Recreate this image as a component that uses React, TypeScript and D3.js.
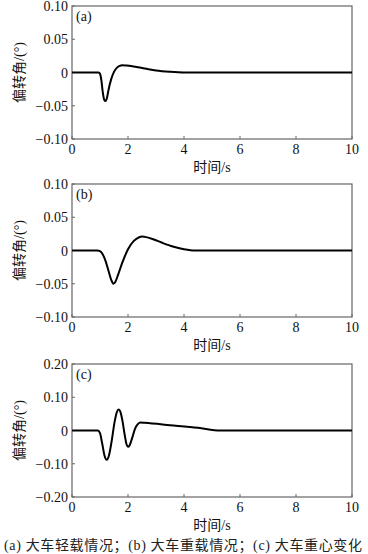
import * as d3 from 'd3'

// time (s) and deflection angle (°)
const timeA = [0, 0.95, 1.0, 1.05, 1.1, 1.15, 1.2, 1.25, 1.3, 1.4, 1.5, 1.6, 1.7, 1.8, 1.95, 2.2, 2.6, 3.0, 3.5, 4.0, 10]
const angleA = [0, 0, -0.002, -0.012, -0.03, -0.041, -0.043, -0.038, -0.027, -0.01, 0.001, 0.007, 0.010, 0.011, 0.0105, 0.009, 0.006, 0.003, 0.001, 0, 0]

const timeB = [0, 0.9, 1.0, 1.1, 1.2, 1.3, 1.4, 1.48, 1.55, 1.65, 1.8, 2.0, 2.2, 2.4, 2.5, 2.6, 2.9, 3.2, 3.6, 4.0, 4.4, 10]
const angleB = [0, 0, -0.001, -0.006, -0.016, -0.030, -0.044, -0.050, -0.047, -0.036, -0.018, 0.002, 0.014, 0.020, 0.021, 0.0205, 0.017, 0.012, 0.006, 0.002, 0, 0]

const timeC = [0, 0.92, 1.0, 1.08, 1.16, 1.24, 1.32, 1.42, 1.52, 1.6, 1.66, 1.72, 1.8, 1.88, 1.95, 2.0, 2.06, 2.15, 2.25, 2.35, 2.45, 2.6, 3.5, 4.5, 5.3, 10]
const angleC = [0, 0, -0.008, -0.040, -0.075, -0.088, -0.075, -0.030, 0.025, 0.055, 0.063, 0.058, 0.030, -0.012, -0.042, -0.049, -0.044, -0.022, 0.005, 0.019, 0.024, 0.023, 0.016, 0.008, 0, 0]

const xTicks = [0, 2, 4, 6, 8, 10]
const yTicksAB = [-0.1, -0.05, 0, 0.05, 0.1]
const yTicksC = [-0.2, -0.1, 0, 0.1, 0.2]

const panels = [
  { tag: '(a)', time: timeA, angle: angleA, ticks: yTicksAB, max: 0.1, top: 6 },
  { tag: '(b)', time: timeB, angle: angleB, ticks: yTicksAB, max: 0.1, top: 184 },
  { tag: '(c)', time: timeC, angle: angleC, ticks: yTicksC, max: 0.2, top: 364 },
]

const caption = '(a)  大车轻载情况；(b)  大车重载情况；(c)  大车重心变化'

const left = 72
const right = 352
const plotH = 133
const font = '"Liberation Serif", "Noto Sans CJK SC", serif'
const axisColor = '#666'

function fmt(v: number) {
  if (v === 0) return '0'
  const s = Math.abs(v).toFixed(2)
  return (v < 0 ? '\u22120' : '0') + s.slice(1)
}

function Panel({ p }: { p: (typeof panels)[number] }) {
  const x = d3.scaleLinear().domain([0, 10]).range([left, right])
  const y = d3.scaleLinear().domain([-p.max, p.max]).range([p.top + plotH, p.top])
  const pts = p.time.map((t, i) => [t, p.angle[i]] as [number, number])
  const line = d3.line<[number, number]>()
    .x(d => x(d[0]))
    .y(d => y(d[1]))
    .curve(d3.curveMonotoneX)
  const bottom = p.top + plotH
  const midY = p.top + plotH / 2
  return (
    <g>
      <rect x={left} y={p.top} width={right - left} height={plotH} fill="none" stroke={axisColor} strokeWidth={1.2} />
      {p.ticks.map(t => (
        <g key={t}>
          <line x1={left} x2={left + 3} y1={y(t)} y2={y(t)} stroke={axisColor} />
          <text x={left - 4} y={y(t) + 5} textAnchor="end" fontSize={14} fontFamily={font} fill="#111">{fmt(t)}</text>
        </g>
      ))}
      {xTicks.map(t => (
        <g key={t}>
          <line x1={x(t)} x2={x(t)} y1={bottom} y2={bottom - 3} stroke={axisColor} />
          <text x={x(t)} y={bottom + 15} textAnchor="middle" fontSize={14} fontFamily={font} fill="#111">{t}</text>
        </g>
      ))}
      <path d={line(pts) ?? ''} fill="none" stroke="#000" strokeWidth={2} />
      <text x={left + 4} y={p.top + 15} fontSize={14} fontFamily={font} fill="#111">{p.tag}</text>
      <text x={(left + right) / 2} y={bottom + 33} textAnchor="middle" fontSize={14} fontFamily={font} fill="#111">时间/s</text>
      <text transform={`translate(24,${midY}) rotate(-90)`} textAnchor="middle" fontSize={14} fontFamily={font} fill="#111">偏转角/(°)</text>
    </g>
  )
}

export default function App() {
  return (
    <svg width={368} height={554} style={{ position: 'absolute', left: 0, top: 0, background: '#fff' }}>
      {panels.map(p => <Panel key={p.tag} p={p} />)}
      <text x={4} y={550} textLength={358} lengthAdjust="spacing" fontSize={14} fontFamily={font} fill="#222">{caption}</text>
    </svg>
  )
}
